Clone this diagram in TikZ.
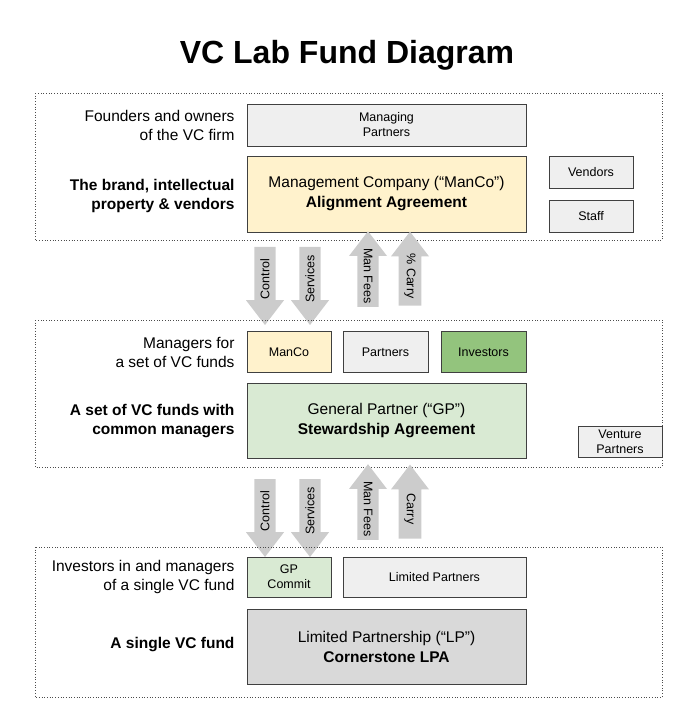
\documentclass[tikz,border=0pt]{standalone}
\usepackage{fontspec}
\setmainfont{Liberation Sans}
\usetikzlibrary{positioning,shapes.arrows}
\definecolor{boxgray}{HTML}{EFEFEF}
\definecolor{manco}{HTML}{FFF2CC}
\definecolor{gpgreen}{HTML}{D9EAD3}
\definecolor{invgreen}{HTML}{93C47D}
\definecolor{lpgray}{HTML}{D9D9D9}
\definecolor{arrowgray}{HTML}{CCCCCC}

\begin{document}
\begin{tikzpicture}[x=1pt,y=-1pt,
	box/.style={draw=black!75,line width=0.8pt,align=center,inner sep=0pt,font=\fontsize{12.5}{15}\selectfont},
	bigbox/.style={box,font=\fontsize{15.5}{20}\selectfont},
	panel/.style={draw=black!70,dotted,line width=0.7pt},
	lefttext/.style={anchor=east,align=right,font=\fontsize{15.5}{19}\selectfont},
	flow/.style={single arrow,fill=arrowgray,minimum height=78pt,minimum width=38pt,
		single arrow head extend=6pt,single arrow tip angle=75,inner sep=3pt,
		font=\fontsize{12.5}{14}\selectfont}]
	\useasboundingbox (0,0) rectangle (697,723);
	% title
	\node (title) at (347,55) {\fontsize{32}{38}\selectfont\bfseries VC Lab Fund Diagram};

	% the firm
	\draw[panel] (35,93) rectangle (662,240);
	\node[box,fill=boxgray,minimum width=279pt,minimum height=42pt] (mp) at (386.5,125) {Managing\\Partners};
	\node[bigbox,fill=manco,minimum width=279pt,minimum height=76pt] (mancobig) at (386.5,194) {Management Company (“ManCo”)\\\textbf{Alignment Agreement}};
	\node[box,fill=boxgray,minimum width=84pt,minimum height=32pt] (vendors) at (591,172) {Vendors};
	\node[box,fill=boxgray,minimum width=84pt,minimum height=32pt] (staff) at (591,216) {Staff};
	\node[lefttext] (founders) at (238,125) {Founders and owners\\of the VC firm};
	\node[lefttext,font=\fontsize{15.5}{19}\selectfont\bfseries] (brand) at (238,196) {The brand, intellectual\\property \& vendors};

	% flows firm -> funds
	\node[flow,rotate=90,shape border rotate=180] (control1) at (265,279) {Control};
	\node[flow,rotate=90,shape border rotate=180] (services1) at (310,279) {Services};
	\node[flow,rotate=-90,shape border rotate=180,minimum height=74pt] (fees1) at (368,276) {Man Fees};
	\node[flow,rotate=-90,shape border rotate=180,minimum height=74pt] (carry1) at (410,276) {\% Carry};

	% the funds
	\draw[panel] (35,320) rectangle (662,467);
	\node[box,fill=manco,minimum width=84pt,minimum height=41pt] (mancosmall) at (289,352) {ManCo};
	\node[box,fill=boxgray,minimum width=85pt,minimum height=41pt] (partners) at (385.5,352) {Partners};
	\node[box,fill=invgreen,minimum width=85pt,minimum height=41pt] (investors) at (483.5,352) {Investors};
	\node[bigbox,fill=gpgreen,minimum width=279pt,minimum height=75pt] (gp) at (386.5,421) {General Partner (“GP”)\\\textbf{Stewardship Agreement}};
	\node[box,fill=boxgray,minimum width=84pt,minimum height=31pt] (venture) at (620,442) {Venture\\Partners};
	\node[lefttext] (managers) at (238,352) {Managers for\\a set of VC funds};
	\node[lefttext,font=\fontsize{15.5}{19}\selectfont\bfseries] (setfunds) at (238,421) {A set of VC funds with\\common managers};

	% flows funds -> fund
	\node[flow,rotate=90,shape border rotate=180] (control2) at (265,511) {Control};
	\node[flow,rotate=90,shape border rotate=180] (services2) at (310,511) {Services};
	\node[flow,rotate=-90,shape border rotate=180,minimum height=74pt] (fees2) at (368,509) {Man Fees};
	\node[flow,rotate=-90,shape border rotate=180,minimum height=74pt] (carry2) at (410,509) {Carry};

	% the single fund
	\draw[panel] (35,547) rectangle (662,697);
	\node[box,fill=gpgreen,minimum width=84pt,minimum height=40pt] (gpcommit) at (289,577) {GP\\Commit};
	\node[box,fill=boxgray,minimum width=183pt,minimum height=40pt] (lps) at (434.5,577) {Limited Partners};
	\node[bigbox,fill=lpgray,minimum width=279pt,minimum height=75pt] (lp) at (386.5,647) {Limited Partnership (“LP”)\\\textbf{Cornerstone LPA}};
	\node[lefttext] (investorsin) at (238,577) {Investors in and managers\\of a single VC fund};
	\node[lefttext,font=\fontsize{15.5}{19}\selectfont\bfseries] (single) at (238,645) {A single VC fund};
\end{tikzpicture}
\end{document}
